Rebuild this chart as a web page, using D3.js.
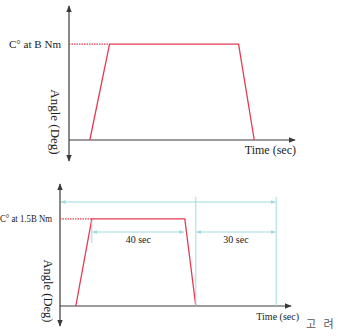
<!DOCTYPE html>
<html>
<head>
<meta charset="utf-8">
<script src="https://cdn.jsdelivr.net/npm/d3@7"></script>
<style>
  body { margin: 0; background: #fff; }
  svg { display: block; }
  text { font-family: "Liberation Serif", "Times New Roman", serif; fill: #222; }
</style>
</head>
<body>
<svg width="338" height="336"></svg>
<script>
// profile times (schematic units) and angle levels (% of axis height)
var topTimes = [9.3, 18.1, 75.7, 82.7];
var botTimes = [6.9, 13.9, 54.5, 59.3];
var profileLevels = [0, 73.8, 73.8, 0];
var levelLabels = ["C\u00b0 at B Nm", "C\u00b0 at 1.5B Nm"];
// dimension marks in bottom chart: [from, to, level, label]
var spans = [
  [0, 94.4, 88.1, ""],
  [13.9, 54.5, 62.7, "40 sec"],
  [59.3, 94.4, 62.7, "30 sec"]
];
var guideX = [59.3, 94.4];

var svg = d3.select("svg");
var red = "#e63a52", cyan = "#9fdadf", axisCol = "#3a3a3a";

var defs = svg.append("defs");
function marker(id, col, size) {
  defs.append("marker").attr("id", id)
    .attr("viewBox", "0 0 10 10").attr("refX", 9).attr("refY", 5)
    .attr("markerWidth", size).attr("markerHeight", size)
    .attr("orient", "auto-start-reverse")
    .append("path").attr("d", "M0,1 L10,5 L0,9 Z").attr("fill", col);
}
marker("ax", axisCol, 6);
marker("cy", cyan, 5);

function panel(o) {
  var x = d3.scaleLinear().domain([0, 100]).range([o.x0, o.x1]);
  var y = d3.scaleLinear().domain([0, 100]).range([o.y0, o.yTop]);
  var g = svg.append("g");

  // axes
  g.append("line").attr("x1", x(0)).attr("x2", x(0))
    .attr("y1", o.yBottom).attr("y2", y(100) - 4)
    .attr("stroke", axisCol).attr("stroke-width", 1.2)
    .attr("marker-start", "url(#ax)").attr("marker-end", "url(#ax)");
  g.append("line").attr("x1", x(0)).attr("x2", x(100) + 2)
    .attr("y1", y(0)).attr("y2", y(0))
    .attr("stroke", axisCol).attr("stroke-width", 1.2)
    .attr("marker-end", "url(#ax)");

  // dotted level guide
  g.append("line").attr("x1", x(0)).attr("x2", x(o.times[1]))
    .attr("y1", y(profileLevels[1])).attr("y2", y(profileLevels[1]))
    .attr("stroke", red).attr("stroke-width", 1.2).attr("stroke-dasharray", "1.5,1");

  // profile
  var line = d3.line().x(function(d) { return x(d[0]); }).y(function(d) { return y(d[1]); });
  g.append("path").datum(d3.zip(o.times, profileLevels))
    .attr("d", line).attr("fill", "none")
    .attr("stroke", red).attr("stroke-width", 1.3);

  g.append("text").attr("x", x(0) - 8).attr("y", y(profileLevels[1]) + 3.5)
    .attr("text-anchor", "end").style("font-size", o.labelSize + "px")
    .attr("textLength", o.labelLen).attr("lengthAdjust", "spacingAndGlyphs")
    .text(o.label);

  g.append("text").attr("transform", "translate(" + o.angleX + "," + o.angleY + ") rotate(90)")
    .attr("text-anchor", "middle").style("font-size", o.angleSize + "px").text("Angle (Deg)");

  g.append("text").attr("x", o.timeX).attr("y", o.timeY)
    .attr("text-anchor", "end").style("font-size", o.timeSize + "px").text("Time (sec)");

  return { x: x, y: y, g: g };
}

panel({ x0: 69, x1: 293, y0: 140, yTop: 10, yBottom: 161, times: topTimes,
  label: levelLabels[0], labelSize: 11, labelLen: 52, angleX: 51, angleY: 122, angleSize: 13,
  timeX: 296, timeY: 154, timeSize: 12 });

var p = panel({ x0: 60, x1: 289, y0: 306, yTop: 188, yBottom: 326, times: botTimes,
  label: levelLabels[1], labelSize: 10, labelLen: 52, angleX: 44, angleY: 291, angleSize: 12.5,
  timeX: 299, timeY: 320, timeSize: 10 });

// cyan guides
p.g.selectAll("line.guide").data(guideX).enter().append("line")
  .attr("x1", function(d) { return p.x(d); }).attr("x2", function(d) { return p.x(d); })
  .attr("y1", p.y(92.4)).attr("y2", p.y(0))
  .attr("stroke", cyan).attr("stroke-width", 1);
p.g.append("line").attr("x1", p.x(botTimes[1])).attr("x2", p.x(botTimes[1]))
  .attr("y1", p.y(profileLevels[1]) + 2).attr("y2", p.y(profileLevels[1]) + 24)
  .attr("stroke", cyan).attr("stroke-width", 1);

p.g.selectAll("line.span").data(spans).enter().append("line")
  .attr("x1", function(d) { return p.x(d[0]) + 1; })
  .attr("x2", function(d) { return p.x(d[1]) - 1; })
  .attr("y1", function(d) { return p.y(d[2]); })
  .attr("y2", function(d) { return p.y(d[2]); })
  .attr("stroke", cyan).attr("stroke-width", 1)
  .attr("marker-start", "url(#cy)").attr("marker-end", "url(#cy)");

p.g.selectAll("text.span").data(spans.filter(function(d) { return d[3]; })).enter().append("text")
  .attr("x", function(d) { return (p.x(d[0]) + p.x(d[1])) / 2; })
  .attr("y", function(d) { return p.y(d[2]) + 11; })
  .attr("text-anchor", "middle").style("font-size", "10px")
  .text(function(d) { return d[3]; });

svg.append("text").attr("x", 306).attr("y", 328)
  .style("font-family", "'Noto Sans CJK KR', sans-serif").style("font-size", "11px")
  .style("fill", "#555").attr("xml:space", "preserve").text("고   려");
</script>
</body>
</html>
